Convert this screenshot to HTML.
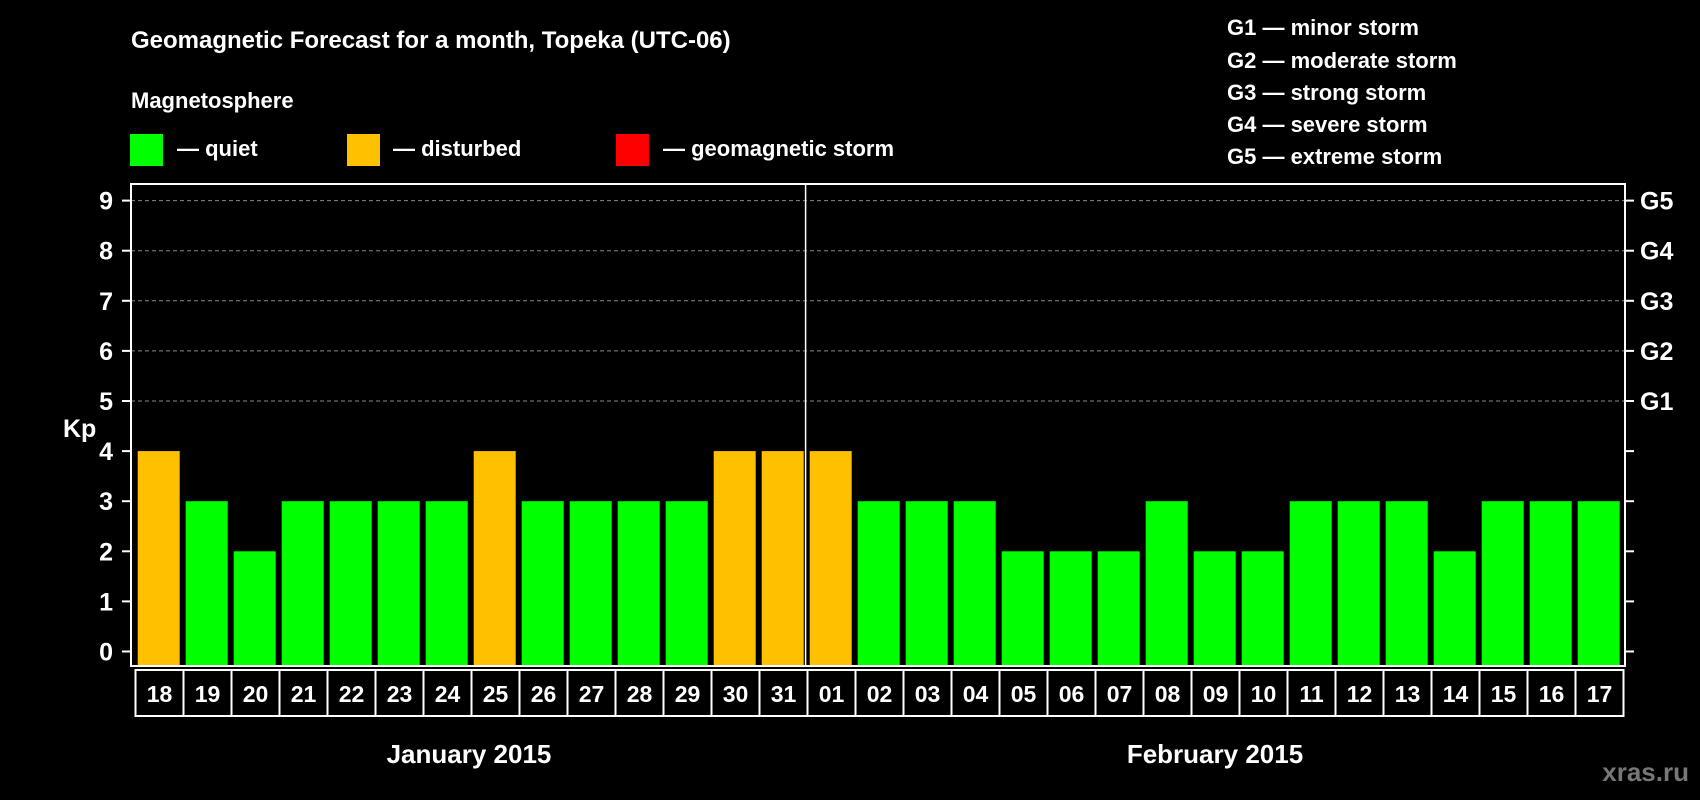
<!DOCTYPE html>
<html><head><meta charset="utf-8"><style>
body{margin:0;background:#000;width:1700px;height:800px;overflow:hidden}
svg{display:block;font-family:"Liberation Sans",sans-serif;font-weight:bold}
</style></head><body>
<svg id="c" width="1700" height="800">
<text x="131" y="48" fill="#fff" font-size="24">Geomagnetic Forecast for a month, Topeka (UTC-06)</text>
<text x="131" y="108" fill="#fff" font-size="22">Magnetosphere</text>
<rect x="130" y="134" width="33" height="32" fill="#00ff00"/>
<text x="177" y="156" fill="#fff" font-size="22">— quiet</text>
<rect x="347" y="134" width="33" height="32" fill="#ffc000"/>
<text x="393" y="156" fill="#fff" font-size="22">— disturbed</text>
<rect x="616" y="134" width="33" height="32" fill="#ff0000"/>
<text x="663" y="156" fill="#fff" font-size="22">— geomagnetic storm</text>
<g fill="#fff" font-size="22">
<text x="1227" y="35">G1 — minor storm</text>
<text x="1227" y="68">G2 — moderate storm</text>
<text x="1227" y="100">G3 — strong storm</text>
<text x="1227" y="132">G4 — severe storm</text>
<text x="1227" y="164">G5 — extreme storm</text>
</g>
<text x="63" y="437" fill="#fff" font-size="25">Kp</text>
<g id="grid"></g><g id="bars"></g><g id="axes"></g>
<text x="469" y="763" fill="#fff" font-size="26" text-anchor="middle">January 2015</text>
<text x="1215" y="763" fill="#fff" font-size="26" text-anchor="middle">February 2015</text>
<text x="1689" y="781" fill="#777" font-size="26" text-anchor="end">xras.ru</text>
</svg>
<script>
const dates=["18","19","20","21","22","23","24","25","26","27","28","29","30","31","01","02","03","04","05","06","07","08","09","10","11","12","13","14","15","16","17"];
const kp=[4,3,2,3,3,3,3,4,3,3,3,3,4,4,4,3,3,3,2,2,2,3,2,2,3,3,3,2,3,3,3];
const yTicks=[0,1,2,3,4,5,6,7,8,9];
const gLabels=["G1","G2","G3","G4","G5"];
const NS="http://www.w3.org/2000/svg";
const L=131,R=1625,T=184,B=666;
const y=v=>651.5-50.1*v;
const x=i=>137.7+48*i;
function mk(t,a,p){const e=document.createElementNS(NS,t);for(const k in a)e.setAttribute(k,a[k]);p.appendChild(e);return e;}
const grid=document.getElementById('grid'),bars=document.getElementById('bars'),axes=document.getElementById('axes');
yTicks.forEach(v=>{
 if(v>=5){const g=mk('line',{x1:L,x2:R,y1:y(v),y2:y(v),stroke:'#888','stroke-dasharray':'4,3'},grid);
 
 }
 mk('line',{x1:L-9,x2:L,y1:y(v),y2:y(v),stroke:'#fff','stroke-width':2},axes);
 mk('line',{x1:R,x2:R+9,y1:y(v),y2:y(v),stroke:'#fff','stroke-width':2},axes);
 const t=mk('text',{x:113,y:y(v)+9,fill:'#fff','font-size':25,'text-anchor':'end'},axes);t.textContent=v;
 
 
});
gLabels.forEach((g,i)=>{const t=mk('text',{x:1640,y:y(5+i)+9,fill:'#fff','font-size':25},axes);t.textContent=g;
 
 });
kp.forEach((v,i)=>{
 const r=mk('rect',{x:x(i),y:y(v),width:42,height:B-y(v),fill:v>=5?'#ff0000':v>=4?'#ffc000':'#00ff00'},bars);
 
 
});
mk('rect',{x:L,y:T,width:R-L,height:B-T,fill:'none',stroke:'#fff','stroke-width':2},axes);
mk('line',{x1:805.6,x2:805.6,y1:T,y2:B,stroke:'#fff','stroke-width':1.5},axes);
dates.forEach((d,i)=>{
 const bx=135.5+48*i;
 const r=mk('rect',{x:bx,y:670,width:48,height:46,fill:'none',stroke:'#fff','stroke-width':2},axes);
 
 
 const t=mk('text',{x:bx+24,y:702,fill:'#fff','font-size':23,'text-anchor':'middle'},axes);t.textContent=d;
 
 
});
</script>
</body></html>
